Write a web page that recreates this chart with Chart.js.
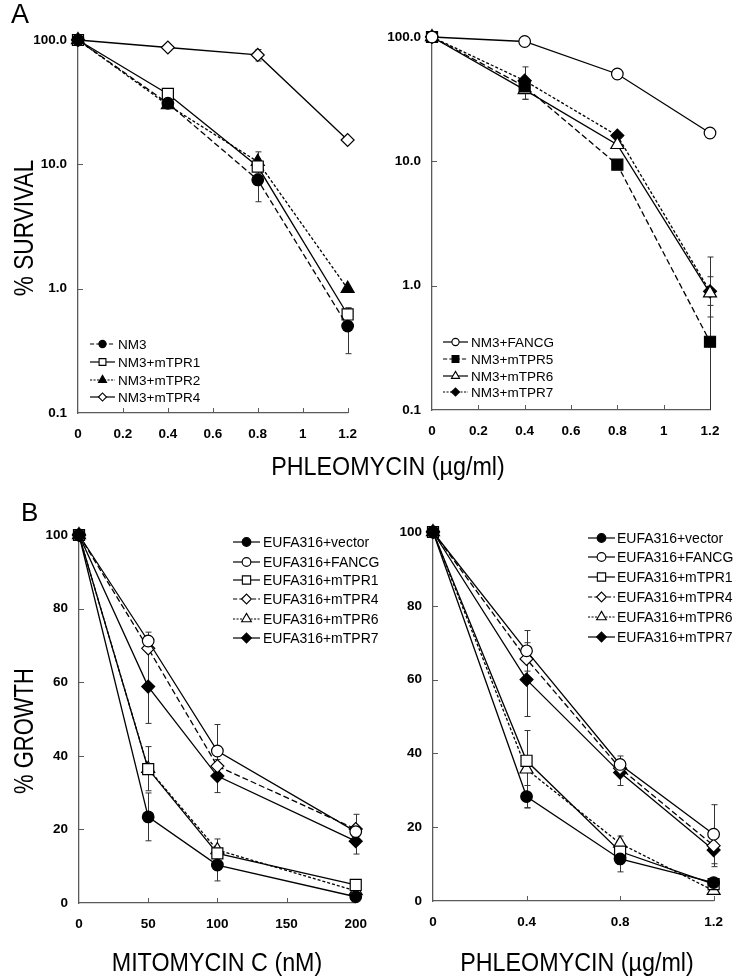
<!DOCTYPE html>
<html>
<head>
<meta charset="utf-8">
<script src="https://cdn.jsdelivr.net/npm/chart.js@4.4.1/dist/chart.umd.min.js"></script>
<style>
  body { margin: 0; background: #fff; width: 736px; height: 978px; position: relative; overflow: hidden;
         font-family: "Liberation Sans", Arial, sans-serif; }
  canvas { position: absolute; }
  .t { position: absolute; white-space: nowrap; color: #000; text-align: center; }
  .lbl { position: absolute; color: #000; line-height: 1; }
</style>
</head>
<body>
<canvas id="aL" width="370" height="460" style="left:0;top:0"></canvas>
<canvas id="aR" width="366" height="460" style="left:370px;top:0"></canvas>
<canvas id="bL" width="380" height="508" style="left:0;top:470px"></canvas>
<canvas id="bR" width="366" height="508" style="left:370px;top:470px"></canvas>

<div class="lbl" style="left:11px;top:1px;font-size:27px">A</div>
<div class="lbl" style="left:21px;top:499px;font-size:26px">B</div>
<div class="t" style="left:-77px;top:213px;width:200px;height:30px;line-height:30px;font-size:22.7px;transform:rotate(-90deg) scaleY(1.2)">% SURVIVAL</div>
<div class="t" style="left:-76px;top:716px;width:200px;height:30px;line-height:30px;font-size:22px;transform:rotate(-90deg) scaleY(1.22)">% GROWTH</div>
<div class="t" style="left:238px;top:451px;width:300px;height:30px;line-height:30px;font-size:23.3px;transform:scaleY(1.08)">PHLEOMYCIN (µg/ml)</div>
<div class="t" style="left:67px;top:947px;width:300px;height:30px;line-height:30px;font-size:23.3px;transform:scaleY(1.08)">MITOMYCIN C (nM)</div>
<div class="t" style="left:427px;top:947px;width:300px;height:30px;line-height:30px;font-size:23.3px;transform:scaleY(1.08)">PHLEOMYCIN (µg/ml)</div>

<script>
// ---- A: % survival, log scale ----
const doseA = [0, 0.4, 0.8, 1.2];
const xTickValsA = [0, 0.2, 0.4, 0.6, 0.8, 1, 1.2];
const xTickLabelsA = ['0', '0.2', '0.4', '0.6', '0.8', '1', '1.2'];
const yTickValsA = [0.1, 1, 10, 100];
const yTickLabelsA = ['0.1', '1.0', '10.0', '100.0'];

const nm3 = [100, 31, 7.5, 0.5];
const nm3Err = [0, 0, 2.5, 0.2];
const nm3Tpr1 = [100, 36.8, 9.6, 0.62];
const nm3Tpr1Err = [0, 0, 0, 0.08];
const nm3Tpr2 = [100, 30, 10.5, 1.0];
const nm3Tpr2Err = [0, 0, 2.1, 0];
const nm3Tpr4 = [100, 87, 75.8, 15.7];
const nm3Tpr4Err = [0, 0, 8, 0];

const nm3Fancg = [100, 92, 50.4, 16.9];
const nm3FancgErr = [0, 0, 0, 0];
const nm3Tpr5 = [100, 40, 9.4, 0.354];
const nm3Tpr5Err = [0, 0, 0, 0.34];
const nm3Tpr6 = [100, 37.6, 13.6, 0.87];
const nm3Tpr6Err = [0, 6, 0, 0.31];
const nm3Tpr7 = [100, 44.5, 16.1, 0.9];
const nm3Tpr7Err = [0, 13, 0, 0.8];

// ---- B: % growth ----
const doseMmc = [0, 50, 100, 200];
const xTickValsMmc = [0, 50, 100, 150, 200];
const xTickLabelsMmc = ['0', '50', '100', '150', '200'];
const doseBleo = [0, 0.4, 0.8, 1.2];
const xTickValsBleo = [0, 0.4, 0.8, 1.2];
const xTickLabelsBleo = ['0', '0.4', '0.8', '1.2'];
const yTickValsB = [0, 20, 40, 60, 80, 100];
const yTickLabelsB = ['0', '20', '40', '60', '80', '100'];

const mmcVector = [100, 23.4, 10.3, 1.7];
const mmcVectorErr = [0, 6.5, 4.3, 0];
const mmcFancg = [100, 71.2, 41.3, 19.4];
const mmcFancgErr = [0, 2.4, 7.2, 0];
const mmcTpr1 = [100, 36.4, 13.5, 4.9];
const mmcTpr1Err = [0, 0, 0, 0];
const mmcTpr4 = [100, 69.2, 37.2, 20.1];
const mmcTpr4Err = [0, 0, 0, 4];
const mmcTpr6 = [100, 36.5, 14.4, 3.3];
const mmcTpr6Err = [0, 6, 3, 0];
const mmcTpr7 = [100, 58.8, 34.5, 16.8];
const mmcTpr7Err = [0, 10, 4.5, 3.5];

const bleoVector = [100, 28.3, 11.4, 5];
const bleoVectorErr = [0, 3, 3.5, 0];
const bleoFancg = [100, 67.8, 37, 18.1];
const bleoFancgErr = [0, 5.5, 2.3, 8];
const bleoTpr1 = [100, 38, 13.4, 4.6];
const bleoTpr1Err = [0, 0, 0, 0];
const bleoTpr4 = [100, 65.6, 36, 15];
const bleoTpr4Err = [0, 0, 0, 0];
const bleoTpr6 = [100, 35.7, 15.6, 2.8];
const bleoTpr6Err = [0, 10.5, 2, 0];
const bleoTpr7 = [100, 60, 34.8, 13.8];
const bleoTpr7Err = [0, 10, 3.5, 4.5];

const LONG = [6, 3];
const SHORT = [3, 2];
const SOLID = [];
const axisColor = '#5a5a5a';
const tickFont = { family: '"Liberation Sans", Arial, sans-serif', size: 13.5, weight: 'bold' };
const R = { circle: 5.8, rect: 7.8, triangle: 7.5, rectRot: 6.5 };

function series(label, xs, ys, err, marker, filled, dash) {
  return {
    label: label, err: err,
    data: xs.map((x, i) => ({ x: x, y: ys[i] })),
    borderColor: '#000', borderWidth: 1.3, borderDash: dash,
    pointStyle: marker, pointRadius: R[marker], pointHoverRadius: R[marker],
    pointBackgroundColor: filled ? '#000' : '#fff', pointBorderColor: '#000', pointBorderWidth: 1.2,
    tension: 0, fill: false, clip: false
  };
}

function line(ctx, x1, y1, x2, y2) {
  ctx.beginPath(); ctx.moveTo(x1, y1); ctx.lineTo(x2, y2); ctx.stroke();
}

// inner ticks, error bars and the legend
const extras = {
  id: 'extras',
  beforeDatasetsDraw(chart) {
    const ctx = chart.ctx, xs = chart.scales.x, ys = chart.scales.y, a = chart.chartArea;
    ctx.save();
    ctx.strokeStyle = axisColor; ctx.lineWidth = 1;
    xs.ticks.forEach(t => {
      if (t.value === xs.min) return;
      const px = Math.round(xs.getPixelForValue(t.value)) + 0.5;
      line(ctx, px, a.bottom, px, a.bottom - 5);
    });
    ys.ticks.forEach(t => {
      if (t.value === ys.min) return;
      const py = Math.round(ys.getPixelForValue(t.value)) + 0.5;
      line(ctx, a.left, py, a.left + 5, py);
    });
    // error bars
    ctx.strokeStyle = '#333'; ctx.lineWidth = 1;
    chart.data.datasets.forEach(ds => {
      ds.data.forEach((p, j) => {
        const e = ds.err[j];
        if (!e) return;
        const px = Math.round(xs.getPixelForValue(p.x)) + 0.5;
        const top = ys.getPixelForValue(p.y + e);
        const lo = p.y - e;
        const bot = lo <= ys.min ? a.bottom : ys.getPixelForValue(lo);
        line(ctx, px, top, px, bot);
        line(ctx, px - 3, top, px + 3, top);
        if (bot < a.bottom) line(ctx, px - 3, bot, px + 3, bot);
      });
    });
    ctx.restore();
  },
  afterDraw(chart, args, opts) {
    const lg = opts.legend;
    if (!lg) return;
    const ctx = chart.ctx;
    ctx.save();
    chart.data.datasets.forEach((ds, i) => {
      const y = lg.rows[i];
      ctx.strokeStyle = '#000'; ctx.lineWidth = 1.2;
      ctx.setLineDash(ds.borderDash.length ? ds.borderDash.map(v => v * 0.7) : []);
      line(ctx, lg.x1, y, lg.x2, y);
      ctx.setLineDash([]);
      ctx.fillStyle = ds.pointBackgroundColor;
      ctx.strokeStyle = '#000'; ctx.lineWidth = 1.1;
      Chart.helpers.drawPoint(ctx, { pointStyle: ds.pointStyle, radius: ds.pointRadius * lg.scale, rotation: 0, borderWidth: 1.1 },
        (lg.x1 + lg.x2) / 2, y);
      ctx.fillStyle = '#000';
      ctx.font = lg.font + 'px "Liberation Sans", Arial, sans-serif';
      ctx.textBaseline = 'middle'; ctx.textAlign = 'left';
      ctx.fillText(ds.label, lg.textX, y + 1);
    });
    ctx.restore();
  }
};

function panel(id, cfg) {
  return new Chart(document.getElementById(id), {
    type: 'line',
    data: { datasets: cfg.datasets },
    options: {
      responsive: false, animation: false, events: [],
      layout: { padding: { top: cfg.top, right: cfg.right, left: 0, bottom: 0 } },
      plugins: { legend: { display: false }, tooltip: { enabled: false }, extras: { legend: cfg.legend } },
      scales: {
        x: {
          type: 'linear', min: cfg.xMin, max: cfg.xMax,
          afterBuildTicks: s => { s.ticks = cfg.xTicks.map(v => ({ value: v })); },
          afterFit: s => { s.height = cfg.xH; },
          grid: { display: false, drawTicks: false },
          border: { color: axisColor, width: 1.3 },
          ticks: { callback: (v, i) => cfg.xLabels[i], font: tickFont, color: '#000', padding: 13, maxRotation: 0, autoSkip: false }
        },
        y: {
          type: cfg.yType, min: cfg.yMin, max: cfg.yMax,
          afterBuildTicks: s => { s.ticks = cfg.yTicks.map(v => ({ value: v })); },
          afterFit: s => { s.width = cfg.yW; },
          grid: { display: false, drawTicks: false },
          border: { color: axisColor, width: 1.3 },
          ticks: { callback: (v, i) => cfg.yLabels[i], font: tickFont, color: '#000', padding: 11, autoSkip: false }
        }
      }
    },
    plugins: [extras]
  });
}

panel('aL', {
  datasets: [
    series('NM3', doseA, nm3, nm3Err, 'circle', true, LONG),
    series('NM3+mTPR1', doseA, nm3Tpr1, nm3Tpr1Err, 'rect', false, SOLID),
    series('NM3+mTPR2', doseA, nm3Tpr2, nm3Tpr2Err, 'triangle', true, SHORT),
    series('NM3+mTPR4', doseA, nm3Tpr4, nm3Tpr4Err, 'rectRot', false, SOLID)
  ],
  top: 40, right: 14, xH: 47, yW: 78,
  xMin: 0, xMax: 1.2, xTicks: xTickValsA, xLabels: xTickLabelsA,
  yType: 'logarithmic', yMin: 0.1, yMax: 100, yTicks: yTickValsA, yLabels: yTickLabelsA,
  legend: { rows: [344, 362, 380, 397], x1: 90, x2: 115, textX: 118, font: 13.5, scale: 0.62 }
});

panel('aR', {
  datasets: [
    series('NM3+FANCG', doseA, nm3Fancg, nm3FancgErr, 'circle', false, SOLID),
    series('NM3+mTPR5', doseA, nm3Tpr5, nm3Tpr5Err, 'rect', true, LONG),
    series('NM3+mTPR6', doseA, nm3Tpr6, nm3Tpr6Err, 'triangle', false, SOLID),
    series('NM3+mTPR7', doseA, nm3Tpr7, nm3Tpr7Err, 'rectRot', true, SHORT)
  ],
  top: 37, right: 26, xH: 50, yW: 62,
  xMin: 0, xMax: 1.2, xTicks: xTickValsA, xLabels: xTickLabelsA,
  yType: 'logarithmic', yMin: 0.1, yMax: 100, yTicks: yTickValsA, yLabels: yTickLabelsA,
  legend: { rows: [342, 359, 376, 392], x1: 73, x2: 98, textX: 101, font: 13.5, scale: 0.62 }
});

panel('bL', {
  datasets: [
    series('EUFA316+vector', doseMmc, mmcVector, mmcVectorErr, 'circle', true, SOLID),
    series('EUFA316+FANCG', doseMmc, mmcFancg, mmcFancgErr, 'circle', false, SOLID),
    series('EUFA316+mTPR1', doseMmc, mmcTpr1, mmcTpr1Err, 'rect', false, SOLID),
    series('EUFA316+mTPR4', doseMmc, mmcTpr4, mmcTpr4Err, 'rectRot', false, LONG),
    series('EUFA316+mTPR6', doseMmc, mmcTpr6, mmcTpr6Err, 'triangle', false, SHORT),
    series('EUFA316+mTPR7', doseMmc, mmcTpr7, mmcTpr7Err, 'rectRot', true, SOLID)
  ],
  top: 65, right: 17, xH: 75, yW: 79,
  xMin: 0, xMax: 200, xTicks: xTickValsMmc, xLabels: xTickLabelsMmc,
  yType: 'linear', yMin: 0, yMax: 100, yTicks: yTickValsB, yLabels: yTickLabelsB,
  legend: { rows: [72, 92, 110, 129, 149, 168], x1: 233, x2: 260, textX: 263, font: 14, scale: 0.75 }
});

panel('bR', {
  datasets: [
    series('EUFA316+vector', doseBleo, bleoVector, bleoVectorErr, 'circle', true, SOLID),
    series('EUFA316+FANCG', doseBleo, bleoFancg, bleoFancgErr, 'circle', false, SOLID),
    series('EUFA316+mTPR1', doseBleo, bleoTpr1, bleoTpr1Err, 'rect', false, SOLID),
    series('EUFA316+mTPR4', doseBleo, bleoTpr4, bleoTpr4Err, 'rectRot', false, LONG),
    series('EUFA316+mTPR6', doseBleo, bleoTpr6, bleoTpr6Err, 'triangle', false, SHORT),
    series('EUFA316+mTPR7', doseBleo, bleoTpr7, bleoTpr7Err, 'rectRot', true, SOLID)
  ],
  top: 62, right: 18, xH: 77, yW: 63,
  xMin: 0, xMax: 1.2, xTicks: xTickValsBleo, xLabels: xTickLabelsBleo,
  yType: 'linear', yMin: 0, yMax: 100, yTicks: yTickValsB, yLabels: yTickLabelsB,
  legend: { rows: [68, 87, 107, 127, 147, 167], x1: 218, x2: 245, textX: 247, font: 14, scale: 0.75 }
});
</script>
</body>
</html>
